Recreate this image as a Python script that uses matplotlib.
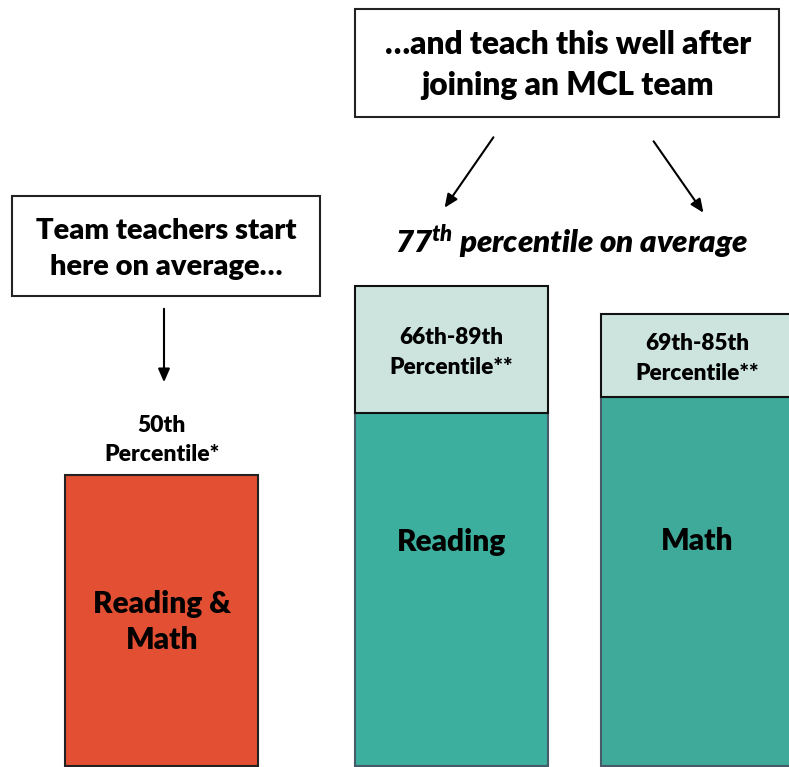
import matplotlib.pyplot as plt
from matplotlib.patches import Rectangle

plt.rcParams['font.family'] = ['Lato', 'DejaVu Sans']
plt.rcParams['mathtext.fontset'] = 'custom'
plt.rcParams['mathtext.rm'] = 'Lato:heavy:italic'
plt.rcParams['mathtext.it'] = 'Lato:heavy:italic'
plt.rcParams['mathtext.bf'] = 'Lato:heavy:italic'

labels = ['Reading &\nMath', 'Reading', 'Math']
centers = [162, 451.5, 697.5]
solid_top = [292, 354, 370]
band_top = [None, 481, 453]
band_text = [None, '66th-89th\nPercentile**', '69th-85th\nPercentile**']
colors = ['#E24F32', '#3DAF9E', '#40AA9A']
band_color = '#CDE4DE'
w = 193
fw = 'heavy'

fig = plt.figure(figsize=(7.89, 7.67), dpi=100)
ax = fig.add_axes([0, 0, 1, 1])
ax.set_xlim(0, 789)
ax.set_ylim(0, 767)
ax.axis('off')

# main bars
for i in range(3):
    ec = '#222222' if i == 0 else '#475a68'
    ax.bar(centers[i], solid_top[i] - 1, w, bottom=1, color=colors[i],
           edgecolor=ec, linewidth=1.5, zorder=2)
    if band_top[i] is not None:
        ax.bar(centers[i], band_top[i] - solid_top[i], w, bottom=solid_top[i],
               color=band_color, edgecolor='#111111', linewidth=1.5, zorder=3)
        ax.text(centers[i], (band_top[i] + solid_top[i]) / 2 - 3, band_text[i],
                ha='center', va='center', fontsize=16.3, fontweight=fw,
                linespacing=1.5, zorder=4)

ax.text(centers[0], 145, labels[0], ha='center', va='center', fontsize=21.5,
        fontweight=fw, linespacing=1.38)
ax.text(centers[1], 225, labels[1], ha='center', va='center', fontsize=21.5,
        fontweight=fw)
ax.text(centers[2], 226, labels[2], ha='center', va='center', fontsize=21.5,
        fontweight=fw)

ax.text(centers[0], 327, '50th\nPercentile*', ha='center', va='center',
        fontsize=16.5, fontweight=fw, linespacing=1.5)

# callout boxes
ax.add_patch(Rectangle((12, 471), 308, 100, facecolor='white',
                       edgecolor='#222222', linewidth=1.5))
ax.text(166, 518, 'Team teachers start\nhere on average…', ha='center',
        va='center', fontsize=21, fontweight=fw, linespacing=1.45)

ax.add_patch(Rectangle((355, 650), 424, 108, facecolor='white',
                       edgecolor='#222222', linewidth=1.5))
ax.text(568, 702, '…and teach this well after\njoining an MCL team', ha='center',
        va='center', fontsize=22.8, fontweight=fw, linespacing=1.5)

ax.text(572, 525, r'$77^{th}$ percentile on average', ha='center', va='center',
        fontsize=22.5, fontweight=fw, fontstyle='italic')

# arrows
arrow = dict(arrowstyle='-|>,head_width=0.35,head_length=0.8', color='black', lw=1.5)
ax.annotate('', xy=(164, 382), xytext=(164, 461), arrowprops=arrow)
ax.annotate('', xy=(443, 557), xytext=(495, 632), arrowprops=arrow)
ax.annotate('', xy=(705, 552), xytext=(652, 628), arrowprops=arrow)

fig.savefig('out.png', dpi=100)
